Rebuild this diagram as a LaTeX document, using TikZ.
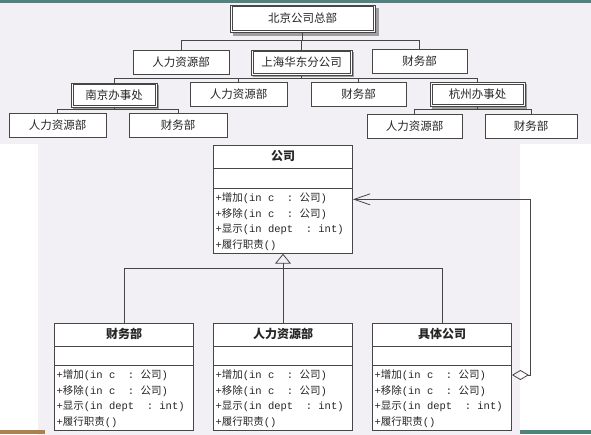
\documentclass[tikz,border=0pt]{standalone}
\usepackage{fontspec}
\setmainfont{Noto Sans CJK SC}
\setmonofont{Liberation Mono}
\usetikzlibrary{arrows.meta,shapes.multipart,calc,backgrounds}

\definecolor{linegray}{RGB}{70,70,70}
\definecolor{scanbg}{RGB}{242,240,244}
\definecolor{slideteal}{RGB}{80,130,125}
\definecolor{slidegold}{RGB}{170,130,80}

\newcommand{\mono}[1]{{\ttfamily #1}}
\newcommand{\opstrut}{\rule[-3.5pt]{0pt}{15.5pt}}
\newcommand{\classtitle}[1]{\rule[-6.5pt]{0pt}{20.5pt}{\fontsize{12}{14}\selectfont\bfseries #1}}
%% the four operations shared by every class
\newcommand{\classops}{%
  \opstrut\mono{+}增加\mono{(in c~ : }公司\mono{)}\\
  \opstrut\mono{+}移除\mono{(in c~ : }公司\mono{)}\\
  \opstrut\mono{+}显示\mono{(in dept~ : int)}\\
  \opstrut\mono{+}履行职责\mono{()}}

\begin{document}
\begin{tikzpicture}
[x=1pt, y=-1pt,
  orgbox/.style={draw=linegray, line width=0.7pt, fill=white, text=black!85,
    minimum height=24pt, inner sep=0pt, font=\fontsize{11.5}{12}\selectfont},
  innerframe/.style={draw=linegray, line width=0.7pt},
  treeline/.style={-, draw=linegray, line width=0.7pt},
  umlclass/.style={rectangle split, rectangle split parts=3, anchor=north,
    draw=linegray, line width=0.8pt, fill=white, text=black!85,
    minimum width=139pt, inner xsep=2pt, inner ysep=1pt, align=left,
    rectangle split part align={center,left,left},
    font=\fontsize{10.5}{15.5}\selectfont},
  umlline/.style={-, draw=linegray, line width=0.8pt}]
\useasboundingbox (0,0) rectangle (591,435);
%% scanned page and slide frame
\begin{scope}[on background layer]
  \fill[scanbg] (0,3) rectangle (591,144);
  \fill[scanbg] (38,144) rectangle (520,435);
  \fill[slideteal] (0,0) rectangle (591,3);
  \fill[slidegold] (0,430) rectangle (45,434);
  \fill[slideteal] (520,430) rectangle (591,434);
\end{scope}

%% organisation chart: offices (double frame, shadow)
\foreach \nodename/\x/\y/\w/\h/\txt in {hq/302.5/18.5/145/27/北京公司总部,
  sh/301.5/62.5/101/25/上海华东分公司, nj/114/95/86/24/南京办事处,
  hz/477.5/94.5/95/24/杭州办事处}
{
  \node[orgbox, minimum width=\w pt, minimum height=\h pt] (\nodename) at (\x,\y) {\txt};
  \draw[innerframe] ($(\nodename.south west)+(2.2,-2.2)$) rectangle ($(\nodename.north east)+(-2.2,2.2)$);
}
\begin{scope}[on background layer]
  \foreach \nodename/\s in {hq/3.5, sh/2, nj/2, hz/2}
    \fill[gray!75] ($(\nodename.north west)+(\s,\s)$) rectangle ($(\nodename.south east)+(\s,\s)$);
\end{scope}
%% organisation chart: departments
\foreach \nodename/\x/\y/\w/\txt in {hrtop/181/62/96/人力资源部,
  fintop/419.5/61.5/95/财务部, hrsh/238.5/94.5/97/人力资源部,
  finsh/358.5/94.5/95/财务部, hrnj/57.5/125/97/人力资源部,
  finnj/178/125/98/财务部, hrhz/414.5/126.5/95/人力资源部,
  finhz/531/126.5/92/财务部}
{
  \node[orgbox, minimum width=\w pt] (\nodename) at (\x,\y) {\txt};
}
%% organisation chart: links
\foreach \parent/\child/\drop in {hq/hrtop/8, hq/sh/8, hq/fintop/8,
  sh/nj/3, sh/hrsh/3, sh/finsh/3, sh/hz/3,
  nj/hrnj/2, nj/finnj/2, hz/hrhz/3, hz/finhz/3}
{
  \draw[treeline] (\parent.south) -- ++(0,\drop) -| (\child.north);
}

%% class diagram
\node[umlclass] (company) at (283,145)
  {\classtitle{公司} \nodepart{two}\rule{0pt}{17pt} \nodepart{three}\classops};
\foreach \nodename/\x/\title in {finance/124/财务部, hr/283/人力资源部,
  concrete/442/具体公司}
{
  \node[umlclass] (\nodename) at (\x,323)
    {\classtitle{\title} \nodepart{two}\rule{0pt}{16pt} \nodepart{three}\classops};
}
\coordinate (junction) at ($(company.south)+(0,15)$);
\coordinate (aggstart) at ($(concrete.north east)+(0,52)$);
\draw[umlline] (finance.north) |- (junction);
\draw[umlline] (concrete.north) |- (junction);
\draw[umlline] (hr.north) -- (junction);
\draw[umlline, -{Triangle[open, length=10pt, width=16pt]}] (junction) -- (company.south);
\draw[umlline, {Diamond[open, length=17pt, width=10pt]}-{Straight Barb[length=16pt, width=11pt]}]
  (aggstart) -- ++(18,0) |- (company.east);
\end{tikzpicture}
\end{document}
